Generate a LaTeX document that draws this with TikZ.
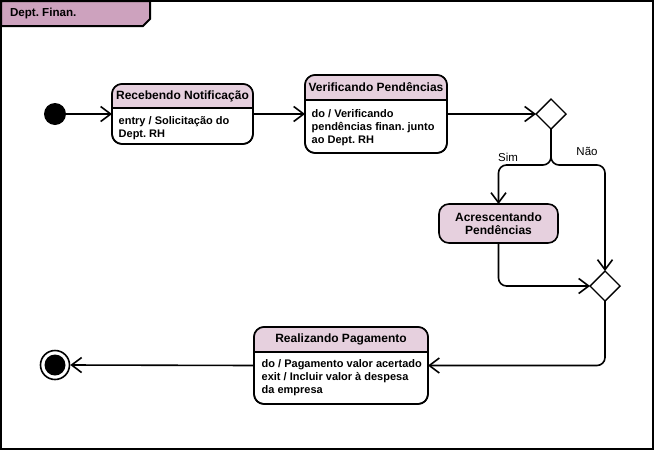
\documentclass[tikz,border=0pt]{standalone}
\usepackage{fontspec}
\setmainfont{Liberation Sans}
\usepackage{tikz}
\usetikzlibrary{arrows.meta, shapes.geometric, positioning}
\definecolor{tabfill}{RGB}{205,162,190}
\definecolor{hdrfill}{RGB}{230,208,222}
\tikzset{
  box/.style={draw, line width=1.6pt, rounded corners=10pt, fill=white, outer sep=0pt, inner sep=0pt},
  seta/.style={-{Straight Barb[length=10pt,width=15pt]}, line width=1.6pt},
  decisao/.style={draw, diamond, aspect=1, line width=1.4pt, minimum width=30pt, minimum height=30pt, inner sep=0pt, outer sep=0pt, fill=white},
  titulo/.style={font=\fontsize{12}{13}\selectfont\bfseries},
  corpo/.style={font=\fontsize{11}{12.7}\selectfont\bfseries, align=left, anchor=north west, inner sep=0pt},
  rotulo/.style={font=\fontsize{11.5}{13}\selectfont},
}
\begin{document}
\frenchspacing
\begin{tikzpicture}[x=1pt, y=-1pt]
    \useasboundingbox (0,0) rectangle (655,450);
    \draw[line width=2pt] (1,1) rectangle (653,448.5);
    \draw[line width=2pt, fill=tabfill] (1,1) -- (150,1) -- (150,19) -- (143,26) -- (1,26) -- cycle;
    \node[titulo, font=\fontsize{11.6}{13}\selectfont\bfseries, anchor=west] (dept) at (6.5,13.5) {Dept. Finan.};

    % pseudo-estados
    \node[circle, fill=black, minimum size=22pt, inner sep=0pt] (ini) at (55,114) {};
    \node[circle, draw, line width=1.6pt, minimum size=29pt, inner sep=0pt] (fim) at (55,365) {};
    \node[circle, fill=black, minimum size=21pt, inner sep=0pt] (fim-in) at (fim) {};

    % Recebendo Notificacao
    \node[box, minimum width=141pt, minimum height=60pt] (rec) at (182.5,114) {};
    \begin{scope}
        \clip[rounded corners=10pt] (rec.north west) rectangle (rec.south east);
        \fill[hdrfill] (rec.north west) rectangle ([yshift=-24pt]rec.north east);
    \end{scope}
    \draw[line width=1.6pt] ([yshift=-24pt]rec.north west) -- ([yshift=-24pt]rec.north east);
    \draw[line width=1.6pt, rounded corners=10pt] (rec.north west) rectangle (rec.south east);
    \node[titulo] (rec-tit) at ([yshift=-12pt]rec.north) {Recebendo Notificação};
    \node[corpo] (rec-txt) at (118.5,116.5) {entry / Solicitação do\\Dept. RH};

    % Verificando Pendencias
    \node[box, minimum width=142pt, minimum height=78pt] (ver) at (376,114) {};
    \begin{scope}
        \clip[rounded corners=10pt] (ver.north west) rectangle (ver.south east);
        \fill[hdrfill] (ver.north west) rectangle ([yshift=-25pt]ver.north east);
    \end{scope}
    \draw[line width=1.6pt] ([yshift=-25pt]ver.north west) -- ([yshift=-25pt]ver.north east);
    \draw[line width=1.6pt, rounded corners=10pt] (ver.north west) rectangle (ver.south east);
    \node[titulo] (ver-tit) at ([yshift=-12.5pt]ver.north) {Verificando Pendências};
    \node[corpo] (ver-txt) at (311.5,109.5) {do / Verificando\\pendências finan. junto\\ao Dept. RH};

    % Acrescentando Pendencias
    \node[box, fill=hdrfill, minimum width=119pt, minimum height=39pt, align=center, titulo] (acr) at (498.5,223.5) {Acrescentando\\Pendências};

    % Realizando Pagamento
    \node[box, minimum width=174pt, minimum height=77pt] (pag) at (341,365.5) {};
    \begin{scope}
        \clip[rounded corners=10pt] (pag.north west) rectangle (pag.south east);
        \fill[hdrfill] (pag.north west) rectangle ([yshift=-25pt]pag.north east);
    \end{scope}
    \draw[line width=1.6pt] ([yshift=-25pt]pag.north west) -- ([yshift=-25pt]pag.north east);
    \draw[line width=1.6pt, rounded corners=10pt] (pag.north west) rectangle (pag.south east);
    \node[titulo] (pag-tit) at ([yshift=-12.5pt]pag.north) {Realizando Pagamento};
    \node[corpo] (pag-txt) at (261.5,359.5) {do / Pagamento valor acertado\\exit / Incluir valor à despesa\\da empresa};

    % decisoes
    \node[decisao] (dec1) at (551,114) {};
    \node[decisao] (dec2) at (605,286) {};

    % transicoes
    \draw[seta] (ini) -- (rec.west);
    \draw[seta] (rec.east) -- (ver.west);
    \draw[seta] (ver.east) -- (dec1.west);
    \draw[seta, rounded corners=8pt] (dec1.south) -- ++(0,36) -| (acr.north);
    \draw[seta, rounded corners=8pt] (dec1.south) -- ++(0,36) -| (dec2.north);
    \node[rotulo] (sim) at (508,157) {Sim};
    \node[rotulo] (nao) at (587,151) {Não};
    \draw[seta, rounded corners=8pt] (acr.south) |- (dec2.west);
    \draw[seta, rounded corners=8pt] (dec2.south) |- (pag.east);
    \draw[seta] (pag.west) -- (fim.east);
\end{tikzpicture}
\end{document}
